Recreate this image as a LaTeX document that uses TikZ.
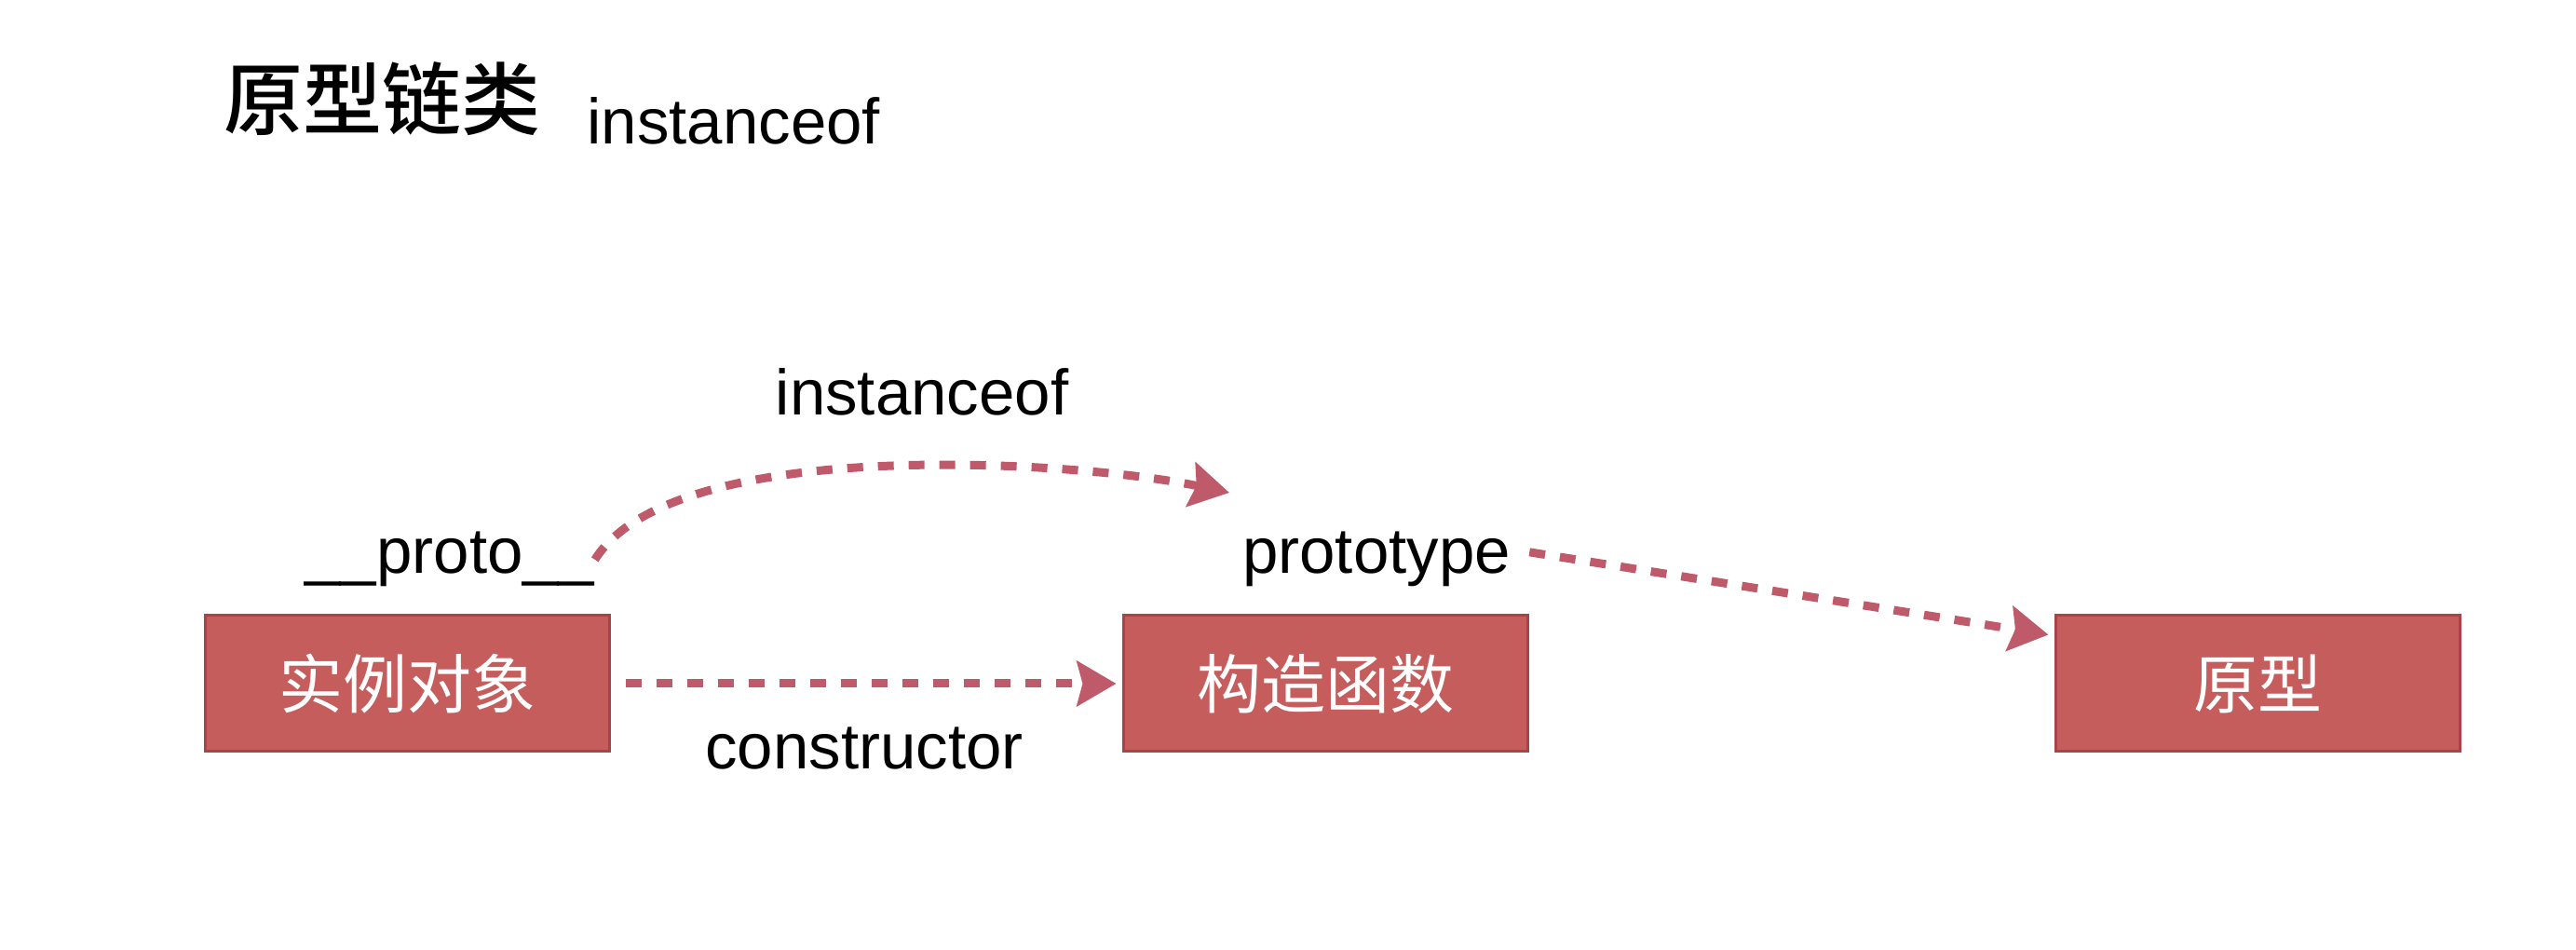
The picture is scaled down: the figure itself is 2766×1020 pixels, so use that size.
\documentclass[tikz,border=0pt]{standalone}
\usepackage{fontspec}
\setmainfont{Liberation Sans}
\newfontfamily\cjk{Noto Sans CJK SC}
\newfontfamily\cjkmed[UprightFont={* Medium}]{Noto Sans CJK SC}
\usetikzlibrary{arrows.meta}
\usetikzlibrary{calc}
\definecolor{boxfill}{RGB}{197,93,93}
\definecolor{boxline}{RGB}{168,68,72}
\definecolor{linkred}{RGB}{190,90,105}

\begin{document}
\begin{tikzpicture}[x=0.5pt,y=0.5pt,
	block/.style={draw=boxline,line width=1.5pt,fill=boxfill,text=white,minimum width=217pt,minimum height=73pt,inner sep=0pt,font=\cjk\fontsize{34.5}{40}\selectfont},
	tag/.style={inner sep=0pt,font=\fontsize{34.5}{40}\selectfont},
	link/.style={draw=linkred,line width=4.5pt,dash pattern=on 8.5pt off 8pt,-{Stealth[length=21pt,width=24pt,inset=3pt]}}]
	\path[use as bounding box,fill=white] (0,0) rectangle (2766,1020);
	
	\node[anchor=west,inner sep=0pt,font=\cjkmed\fontsize{42.5}{48}\selectfont] (title) at (240,914) {原型链类};
	\node[tag,anchor=base west] (titleinst) at (630,865) {instanceof};
	
	\node[block] (inst) at (437,286) {实例对象};
	\node[block] (ctor) at (1423,286) {构造函数};
	\node[block] (proto) at (2424,286) {原型};
	
	\node[tag,anchor=base] (protolabel) at (483,404) {\_\_proto\_\_};
	\node[tag,anchor=base] (instlabel) at (990,574) {instanceof};
	\node[tag,anchor=base] (ptypelabel) at (1478,404) {prototype};
	\node[tag,anchor=base] (ctorlabel) at (928,194) {constructor};
	\coordinate (instend) at (1320,491);
	
	\draw[link,shorten <=8pt,shorten >=3pt] (inst) -- (ctor);
	\draw[link] (protolabel.east) to[out=58,in=168,looseness=0.6] (instend);
	\draw[link] ([xshift=10pt,yshift=4pt]ptypelabel.east) -- ([xshift=-3pt,yshift=-11pt]proto.north west);
\end{tikzpicture}
\end{document}
